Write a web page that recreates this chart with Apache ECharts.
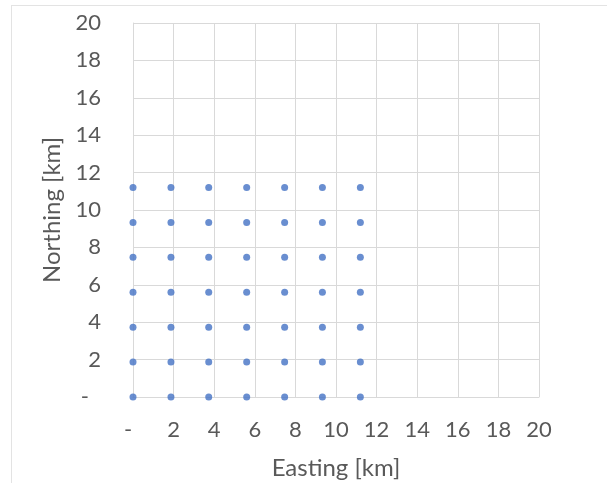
<!DOCTYPE html>
<html>
<head>
<meta charset="utf-8">
<script src="https://cdn.jsdelivr.net/npm/echarts@6/dist/echarts.min.js"></script>
<style>html,body{margin:0;padding:0;background:#fff}#c{width:607px;height:483px}</style>
</head>
<body>
<div id="c"></div>
<script>
const eastings = [0, 1.87, 3.73, 5.6, 7.47, 9.33, 11.2];
const northings = [0, 1.87, 3.73, 5.6, 7.47, 9.33, 11.2];
const xTitle = 'Easting [km]';
const yTitle = 'Northing [km]';
const axisMin = 0, axisMax = 20, axisStep = 2;

const points = [];
for (const n of northings) for (const e of eastings) points.push([e, n]);

const font = 'Lato, "Open Sans", sans-serif';
const txt = '#595959';
const grid = '#d9d9d9';
const lblSize = 22, titleSize = 24;

const chart = echarts.init(document.getElementById('c'), null, {renderer: 'canvas'});
chart.setOption({
  animation: false,
  backgroundColor: '#fff',
  grid: {left: 133, right: 68, top: 23, bottom: 86, containLabel: false, outerBoundsMode: 'none'},
  graphic: [
    {type: 'line', shape: {x1: 11.5, y1: 5, x2: 11.5, y2: 483}, style: {stroke: '#e3e3e3', lineWidth: 1}},
    {type: 'line', shape: {x1: 11, y1: 5.5, x2: 607, y2: 5.5}, style: {stroke: '#e3e3e3', lineWidth: 1}}
  ],
  xAxis: {
    type: 'value', min: axisMin, max: axisMax, interval: axisStep,
    name: xTitle, nameLocation: 'middle', nameGap: 59,
    nameTextStyle: {color: txt, fontSize: titleSize, fontFamily: font},
    axisLine: {show: true, lineStyle: {color: grid}},
    axisTick: {show: false},
    splitLine: {show: true, lineStyle: {color: grid}},
    axisLabel: {
      color: txt, fontSize: lblSize, fontFamily: font, margin: 22,
      formatter: v => v === 0 ? '{d|-}' : String(v),
      rich: {d: {color: txt, fontSize: lblSize, fontFamily: font, padding: [0, 10, 0, 0]}}
    }
  },
  yAxis: {
    type: 'value', min: axisMin, max: axisMax, interval: axisStep,
    name: yTitle, nameLocation: 'middle', nameGap: 69,
    nameTextStyle: {color: txt, fontSize: titleSize, fontFamily: font},
    axisLine: {show: true, lineStyle: {color: grid}},
    axisTick: {show: false},
    splitLine: {show: true, lineStyle: {color: grid}},
    axisLabel: {
      color: txt, fontSize: lblSize, fontFamily: font, margin: 32,
      formatter: v => v === 0 ? '{d|-}' : String(v),
      rich: {d: {color: txt, fontSize: lblSize, fontFamily: font, padding: [0, 12, 0, 0]}}
    }
  },
  series: [{
    type: 'scatter',
    data: points,
    symbol: 'circle',
    symbolSize: 7,
    itemStyle: {color: '#4472C4'}
  }]
});
</script>
</body>
</html>
